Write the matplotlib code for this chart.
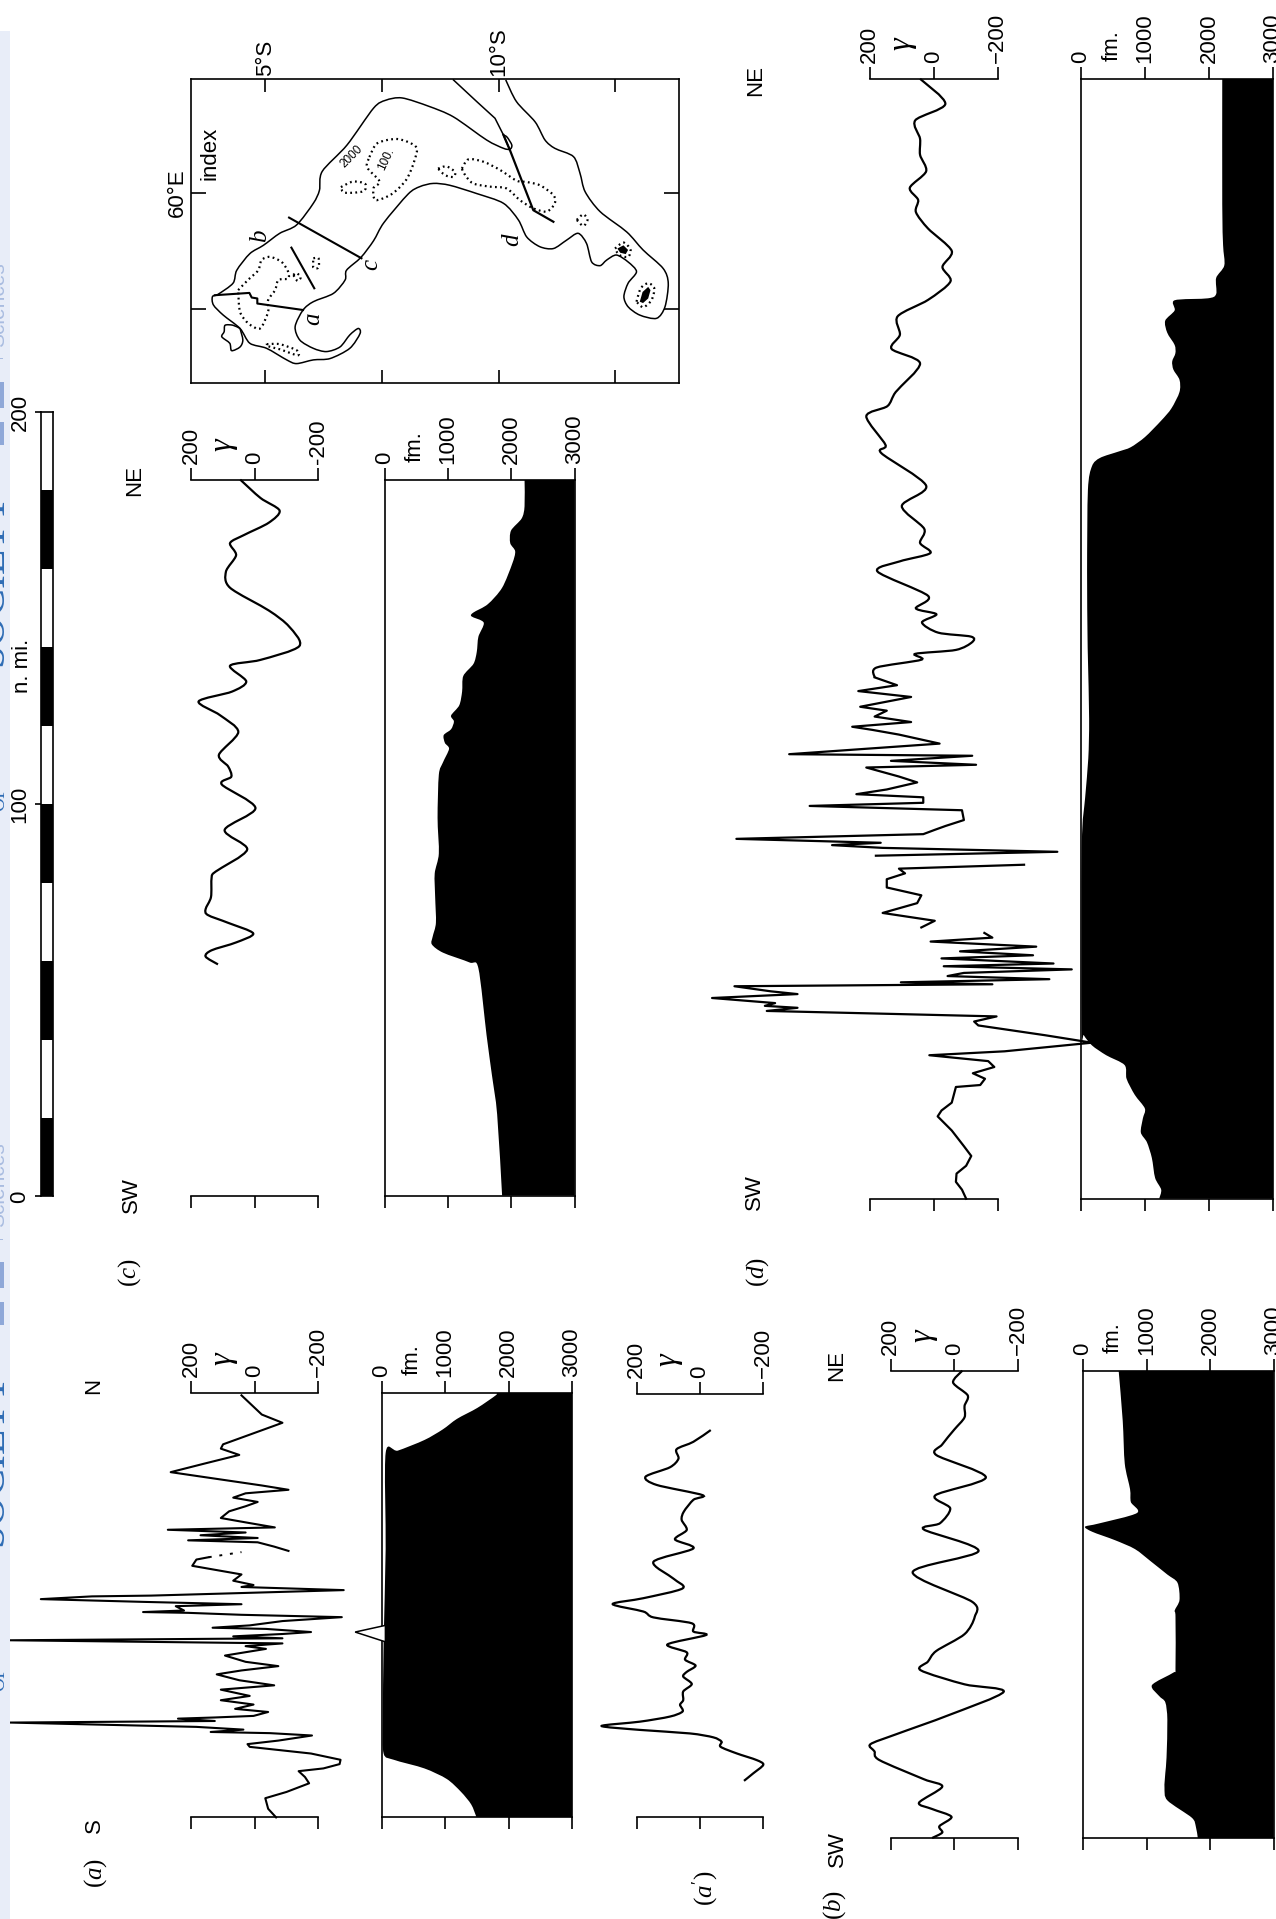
"""Magnetic and bathymetric profiles across the Carlsberg/Mascarene ridges, page turned on its side."""

import matplotlib

matplotlib.use("Agg")

import matplotlib.pyplot as plt
from matplotlib.patches import PathPatch, Rectangle
from matplotlib.path import Path

plt.rcParams["font.family"] = "Liberation Sans"
plt.rcParams["mathtext.fontset"] = "custom"
plt.rcParams["mathtext.rm"] = "Liberation Serif"
plt.rcParams["mathtext.it"] = "Liberation Serif:italic"

W, H = 1276, 1919
nan = float("nan")

# scale bar, n. mi.
bar_starts = [0, 20, 40, 60, 80, 100, 120, 140, 160, 180]
bar_colors = ["black", "white"] * 5

# (a) S-N
a_dist = [0.0, 2.2, 4.9, 6.5, 8.7, 10.3, 11.8, 12.5, 13.6, 14.7, 16.3, 18.0, 18.7, 19.6, 20.9, 21.5, 21.8, 22.4, 23.1,
          24.2, 24.6, 25.2, 25.5, 25.9, 26.9, 27.7, 28.8, 29.9, 31.0, 32.6, 33.7, 35.0, 36.5, 37.5, 38.6, 39.7, 41.3,
          43.0, 43.7, 44.4, 45.2, 45.7, 46.2, 46.8, 47.3, 48.1, 48.4, 49.0, 50.1, 51.1, 51.7, 52.2, 52.4, 52.8, 53.9,
          54.4, 55.0, 55.7, 56.4, 56.6, 57.1, 58.0, 58.8, 59.3, 60.4, 62.0, 64.2, 65.8, 66.4, nan,
          68.0, 69.1, 70.2, 70.7, 71.3, 72.0, 72.7, 73.4, 74.0, 75.1, 76.4, 78.1, 79.4, 80.5, 81.6, 82.7, 83.6, 84.7,
          88.1, 90.3, 92.5, 94.1, 95.2, 100.7, 102.8, 107.7]
a_gamma = [-68, -43, -34, -101, -172, -159, -139, -217, -268, -271, -178, 15, 22, -75, -181, -49, 138, 35, 183,
           770, 125, 241, 125, 3, -43, 61, 3, 106, 15, 106, -62, 48, 119, 41, -75, 28, 93,
           -36, 28, -88, 770, -88, 67, -88, -178, -36, 132, 15, -88, -275, 41, 209, 351, 222, 248,
           41, 351, 673, 512, 325, 106, -281, 41, 3, 67, 41, 196, 183, 144, nan,
           -107, -62, -10, 209, -10, 170, 28, 273, -64, 15, 106, 80, 28, -10, 67, 28, -107, -23,
           264, 157, 48, 106, 99, -88, -23, 41]
a_gap_dist = [66.4, 67.7]
a_gap_gamma = [144, 41]
a_depth_dist = [0, 3.3, 6.5, 9.8, 12.5, 14.7, 16.3, 25, 44.8, 68.5, 93, 93.6, 96.3, 99, 101.7, 104.5, 107.7, 108.3]
a_depth = [1496, 1412, 1252, 1027, 674, 193, 32, 20, 32, 64, 64, 257, 674, 963, 1188, 1509, 1798, 1810]
a_peak_dist = [44.8, 47.3, 49.0]
a_peak_depth = [60, -417, 60]

# (a') same track
ap_dist = [9.3, 11.2, 13.4, 14.6, 16.3, 18.0, 19.3, 20.4, 21.4, 22.3, 23.3, 24.4, 25.7, 27.0, 28.7, 29.9, 32.1, 34.0,
           35.9, 37.1, 38.7, 40.2, 42.1, 44.1, 46.5, 47.4, 49.5, 51.0, 52.5, 54.4, 55.9, 58.4, 60.9, 65.2, 68.6, 70.9,
           73.3, 75.9, 78.0, 81.0, 82.2, 84.8, 86.9, 89.3, 91.5, 93.9, 95.8, 98.8]
ap_gamma = [-139, -168, -200, -179, -116, -65, -68, -42, 32, 190, 311, 190, 95, 55, 63, 53, 53, 26,
            53, 42, 14, 47, 42, 103, -19, 21, 26, 147, 179, 276, 179, 55, 84, 147, 21, 79,
            42, 58, 51, 21, -8, 137, 172, 95, 68, 74, 21, -34]

# (b) SW-NE
b_dist = [0, 1.4, 3.0, 5.4, 7.4, 9.0, 13.1, 15.0, 19.9, 22.1, 23.9, 26.4, 31.3, 37.3, 39.2, 42.8, 45.0, 47.7, 52.0,
          56.4, 60.2, 67.8, 73.2, 78.7, 80.3, 84.1, 87.4, 92.0, 97.7, 100.4, 104.2, 107.3, 110.2, 112.9, 116.2, 119.2]
b_gamma = [70, 38, 47, 9, 70, 111, 38, 96, 236, 251, 264, 185, 19, -155, -32, 106, 83, 57, -32,
           -64, -57, 131, -76, 96, 45, 13, 60, -99, 57, 38, 0, -32, -32, -42, 4, -25]
b_depth_dist = [0, 3.0, 5.2, 9.6, 12.8, 16.6, 20.5, 30.2, 34.6, 36.2, 39.0, 42.2, 43.3, 56.4, 58.0, 60.7, 65.1, 67.2,
                70.5, 73.7, 76.0, 78.1, 79.4, 80.2, 82.9, 85.7, 89.0, 95.5, 106.4, 119.2]
b_depth = [1806, 1774, 1710, 1327, 1282, 1295, 1314, 1327, 1295, 1199, 1085, 1423, 1455, 1455, 1442, 1518, 1487, 1327,
           1072, 817, 498, 147, 32, 242, 849, 753, 740, 657, 625, 561]

# (c) SW-NE
c_dist = [59.0, 61.0, 62.6, 64.6, 66.9, 69.6, 71.6, 73.1, 76.2, 81.2, 82.7, 88.3, 93.3, 98.9, 104.9, 106.9, 109.5,
          112.5, 118.3, 122.6, 126.1, 128.6, 131.2, 135.2, 136.7, 140.2, 145.2, 149.3, 155.1, 159.2, 163.4, 166.5,
          168.6, 171.7, 174.8, 178.0, 182.7]
c_gamma = [115, 154, 135, 58, 4, 83, 147, 154, 137, 135, 122, 23, 94, -3, 103, 73, 83,
           112, 51, 109, 176, 71, 26, 77, -19, -141, -109, -45, 77, 90, 58, 77,
           32, -45, -79, -19, 45]
c_depth_dist = [0, 20.7, 30.8, 40.9, 58, 59.5, 62, 64.1, 66.1, 69.6, 76.2, 82.2, 87.3, 96.4, 107.4, 110.5, 114, 115.5,
                117.5, 119, 121, 122.5, 125.1, 128.6, 132.6, 135.7, 138.7, 142.6, 146.2, 147.8, 148.8, 150.9, 155.1,
                161.3, 164.4, 166.5, 169.7, 172.8, 175.9, 182.7]
c_depth = [1855, 1777, 1694, 1610, 1481, 1340, 921, 747, 760, 811, 799, 792, 857, 837, 857, 921, 1018, 953,
           934, 1050, 1095, 1050, 1179, 1224, 1243, 1404, 1455, 1481, 1565, 1372, 1404, 1629, 1855,
           2016, 2061, 1983, 1996, 2164, 2209, 2209]

# (d) SW-NE, breaks where the record stops
d_dist = [0, 2.3, 4.3, 6.4, 8.4, 10.9, 13.4, 17.4, 21, 22.5, 24.5, 28.5, 29, 30.6, 32, 33.6, 35.1, 36.6, 37.6, 39.8,
          41.7, 44.2, 45.2, 46.5, 47.2, 47.9, 48.7, 49.2, 49.9, 51.2, 52.2, 52.9, 54.2, 54.7, 55.2, 56, 56.8, 57.6,
          58.5, 59.3, 60, 61.3, 62.1, 63.1, 64.3, 65.6, 66.6, 67.8, nan,
          69.2, 70.9, 72.9, 75.4, 77.4, 79.4, 81.5, 83, 84.2, 85.2, nan,
          87.5, 88.5, 89.5, 90.2, 90.8, 91.8, 93, 94.1, 95.1, 96.6, 99.1, 100.2, 101, 102.4, 103.2, 104.4, 106.2,
          107.7, 110, 110.7, 111.7, 113, 113.4, 116.1, 118.4, 119.6, 120.4, 121.6, 123, 124.5, 125.5, 128, 129.5,
          131, 133, 135.5, 137.5, 139, 140, 142, 143.4, 144.4, 147, 149.1, 150.6, 153.8, 160, 162.6, 164.7, 167.3,
          170.9, 176.7, 181.9, 190.2, 192.3, 199.6, 202.2, 205.8, 213.1, 216.8, 220.4, 225.1, 229.3, 234, 237.7,
          241.8, 247.5, 251.7, 254.8, 257.9, 262.1, 266.3, 270.4, 275.1, 279.3, 285.7]
d_gamma = [-102, -89, -70, -72, -102, -118, -95, -57, -13, -25, -57, -70, -146, -161, -123, -190, -171, 13, -222, -495,
           -349, -140, -127, -197, 159, 521, 425, 527, 495, 692, 425, 508, 622, -184, 102, -362, -44, -95,
           -432, -32, -375, -25, -311, -83, -321, 9, -184, -159, nan,
           38, -4, 159, 51, 38, 146, 146, 89, 108, -283, nan,
           180, -387, 159, 317, 165, 616, 32, -4, -38, -95, -89, 387, 32, 32, 241, 146, 51,
           108, 210, -133, 133, -121, 451, -19, 108, 191, 254, 70, 184, 146, 229, 70, 235,
           114, 184, 178, 38, 57, -70, -121, -117, -15, 36, -9, 55, 17, 175, 105, 10, 42,
           29, 99, 23, 163, 150, 210, 144, 118, 42, 131, 105, 112, 17, -53, -28,
           -57, 17, 55, 48, 74, 23, 42, 42, 57, -37, 42]
d_depth_dist = [0, 2.3, 5.3, 10.4, 14.4, 16.9, 20.5, 23, 26.5, 30.6, 34.1, 36.6, 39.1, 41.7, 43.7, 90.1, 102.2, 112.3,
                122.4, 137.9, 143.4, 160, 180.8, 186.9, 189, 190.6, 191.7, 194.3, 198.5, 201.6, 205.8, 208.9, 211.5,
                213.6, 215.7, 217.8, 220.9, 224, 226.6, 229.2, 229.7, 230.8, 234.9, 238.1, 243.3, 253.7, 285.7]
d_depth = [1221, 1253, 1158, 1107, 1030, 935, 967, 998, 840, 712, 681, 394, 172, 45, 13, 13, 64, 114,
           127, 108, 102, 95, 108, 172, 299, 585, 776, 999, 1253, 1412, 1539, 1539, 1444,
           1425, 1475, 1463, 1348, 1316, 1463, 1463, 1984, 2112, 2112, 2239, 2220, 2207, 2207]

# index map: lat deg S, lon deg E
coast_lat = [10.15, 10.38, 10.78, 10.99, 11.20, 11.60, 11.74, 11.85, 12.17, 12.74, 13.09, 13.52, 13.63, 13.56, 13.38,
             13.02, 12.77, 12.68, 12.77, 12.95, 12.77, 12.52, 12.31, 12.17, 11.99, 11.88, 11.70, 11.45, 11.17, 10.88,
             10.60, 10.42, 10.10, 9.53, 8.95, 8.60, 8.31, 8.06, 7.54, 7.32, 7.05, 6.74, 6.71, 6.46, 6.03, 5.81, 5.64,
             5.74, 6.03, 6.31, 6.60, 6.81, 6.99, 7.03, 6.81, 6.39, 6.03, 5.67, 5.46, 5.03, 4.67, 4.46, 4.10, 3.89,
             3.87, 3.99, 4.31, 4.39, 4.67, 4.96, 5.31, 5.67, 6.03, 6.16, 6.22, 6.75, 7.32, 7.58, 7.93, 8.50, 9.03,
             9.74, 10.10, 10.24, 10.28, 10.18, 10.10]
coast_lon = [62.45, 61.98, 61.54, 61.15, 60.97, 60.79, 60.43, 60.03, 59.60, 59.16, 58.77, 58.37, 58.05, 57.54, 57.29,
             57.36, 57.54, 57.76, 58.05, 58.30, 58.51, 58.66, 58.55, 58.43, 58.51, 58.91, 59.13, 58.98, 58.80, 58.84,
             59.05, 59.42, 59.78, 59.99, 60.17, 60.21, 60.14, 59.98, 59.36, 58.97, 58.61, 58.33, 58.12, 57.83, 57.65,
             57.47, 57.11, 56.82, 56.64, 56.57, 56.67, 56.93, 57.07, 56.96, 56.64, 56.42, 56.39, 56.31, 56.39, 56.64,
             56.75, 57.07, 57.36, 57.58, 57.76, 57.81, 58.05, 58.33, 58.69, 58.87, 59.13, 59.31, 59.78, 60.06, 60.47,
             61.04, 61.84, 62.01, 62.06, 61.88, 61.65, 61.15, 60.97, 60.95, 61.04, 61.21, 61.26]
island_lat = [4.46, 4.31, 4.14, 4.12, 4.07, 4.24, 4.28, 4.46, 4.52, 4.46]
island_lon = [57.07, 57.14, 57.14, 57.0, 56.89, 56.75, 56.59, 56.67, 56.82, 57.07]

track_a_lat = [3.92, 4.66, 4.71, 4.83, 4.83, 5.81]
track_a_lon = [57.79, 57.84, 57.74, 57.72, 57.61, 57.47]
track_b_lat = [5.56, 6.05]
track_b_lon = [58.82, 57.94]
track_c_lat = [5.51, 7.06]
track_c_lon = [59.47, 58.59]
track_d1_lat = [9.03, 9.53, 9.92, 10.10, 10.24]
track_d1_lon = [62.45, 61.98, 61.62, 61.26, 60.93]
track_d2_lat = [10.10, 10.24, 10.74, 11.17]
track_d2_lon = [61.26, 60.93, 59.63, 59.38]

shoals = [
    ([4.42, 4.64, 4.85, 4.92, 5.10, 5.35, 5.49, 5.49, 5.28, 5.21, 5.06, 5.06, 4.89, 4.64, 4.46, 4.42],
     [57.90, 58.13, 58.33, 58.55, 58.62, 58.51, 58.30, 58.15, 58.12, 57.90, 57.68, 57.43, 57.07, 57.18, 57.43, 57.90]),
    ([5.60, 5.67, 5.76, 5.69, 5.60], [58.23, 58.27, 58.18, 58.10, 58.23]),
    ([6.03, 6.14, 6.14, 6.03, 6.03], [58.59, 58.59, 58.39, 58.39, 58.59]),
    ([5.03, 5.31, 5.67, 5.69, 5.31, 5.04, 5.03], [56.73, 56.73, 56.60, 56.49, 56.62, 56.69, 56.73]),
    ([7.23, 7.40, 7.84, 8.23, 8.19, 8.02, 7.71, 7.36, 7.32, 7.45, 7.18, 7.23],
     [60.78, 61.08, 61.17, 61.00, 60.69, 60.29, 59.98, 59.85, 60.11, 60.25, 60.56, 60.78]),
    ([6.62, 6.88, 7.14, 7.10, 6.70, 6.62], [60.13, 60.25, 60.20, 60.04, 60.01, 60.13]),
    ([8.70, 8.88, 9.06, 9.03, 8.85, 8.70], [60.53, 60.58, 60.46, 60.35, 60.39, 60.53]),
    ([9.21, 9.35, 9.67, 10.03, 10.38, 10.60, 10.88, 11.17, 11.20, 11.03, 10.74, 10.45, 10.17, 9.81, 9.45, 9.28, 9.21],
     [60.53, 60.73, 60.68, 60.50, 60.27, 60.24, 60.17, 59.96, 59.78, 59.60, 59.67, 59.85, 60.10, 60.14, 60.21, 60.39,
      60.53]),
    ([11.67, 11.81, 11.90, 11.81, 11.67], [59.42, 59.54, 59.42, 59.29, 59.42]),
    ([12.95, 13.04, 13.20, 13.33, 13.27, 13.09, 12.95], [57.65, 57.94, 58.05, 57.94, 57.68, 57.53, 57.65]),
    ([12.49, 12.67, 12.82, 12.77, 12.58, 12.49], [58.80, 58.93, 58.78, 58.62, 58.66, 58.80]),
]
reunion_lat = [13.02, 13.08, 13.20, 13.25, 13.20, 13.09]
reunion_lon = [57.65, 57.86, 57.97, 57.90, 57.72, 57.62]
mauritius_lat = [12.54, 12.67, 12.77, 12.72, 12.60]
mauritius_lon = [58.80, 58.87, 58.77, 58.68, 58.71]

gamma_ticks = [200, 0, -200]
depth_ticks = [0, 1000, 2000, 3000]
depth_labels = ["0", "1000", "2000", "3000"]

FS = 16
LW = 1.2

fig = plt.figure(figsize=(W / 100, H / 100), dpi=100, facecolor="white")


def box(x0, y0, x1, y1):
    # pixel box of the page -> axes
    ax = fig.add_axes([x0 / W, 1 - y1 / H, (x1 - x0) / W, (y1 - y0) / H])
    ax.patch.set_alpha(0)
    for s in ax.spines.values():
        s.set_linewidth(LW)
    return ax


def page_text(x, y, s, **kw):
    kw.setdefault("fontsize", FS)
    kw.setdefault("rotation", 90)
    fig.text(x / W, 1 - y / H, s, ha="center", va="center", **kw)


def curve(xs, ys):
    # bezier through the read points, the pen line was drawn smooth
    verts = [(xs[0], ys[0])]
    codes = [Path.MOVETO]
    n = len(xs)
    for i in range(n - 1):
        a, b = max(i - 1, 0), min(i + 2, n - 1)
        verts.append((xs[i] + (xs[i + 1] - xs[a]) / 7, ys[i] + (ys[i + 1] - ys[a]) / 7))
        verts.append((xs[i + 1] - (xs[b] - xs[i]) / 7, ys[i + 1] - (ys[b] - ys[i]) / 7))
        verts.append((xs[i + 1], ys[i + 1]))
        codes += [Path.CURVE4] * 3
    return verts, codes


def smooth(ax, xs, ys, lw=1.6, **kw):
    verts, codes = curve(xs, ys)
    ax.add_patch(PathPatch(Path(verts, codes), fill=False, lw=lw, edgecolor="black", clip_on=False, **kw))


def gamma_panel(x0, y0, x1, y1, length, minus="\u2212"):
    ax = box(x0, y0, x1, y1)
    ax.set_xlim(200, -200)
    ax.set_ylim(0, length)
    ax.spines["left"].set_visible(False)
    ax.spines["right"].set_visible(False)
    ax.set_yticks([])
    ax.set_xticks(gamma_ticks)
    ax.set_xticklabels(["200", "0", minus + "200"], rotation=90, fontsize=FS)
    ax.tick_params(axis="x", top=True, bottom=True, labeltop=True, labelbottom=False,
                   direction="out", length=8.7, width=LW, pad=2.5)
    ax.annotate("\u03b3", (100, 1), xycoords=("data", "axes fraction"), xytext=(0, 25),
                textcoords="offset points", rotation=90, ha="center", va="center",
                fontsize=23, family="Liberation Serif", style="italic")
    return ax


def depth_panel(x0, y0, x1, y1, dist, depth):
    ax = box(x0, y0, x1, y1)
    ax.set_xlim(0, 3000)
    ax.set_ylim(0, dist[-1])
    ax.set_yticks([])
    ax.set_xticks(depth_ticks)
    ax.set_xticklabels(depth_labels, rotation=90, fontsize=FS)
    ax.tick_params(axis="x", top=True, bottom=True, labeltop=True, labelbottom=False,
                   direction="out", length=8.7, width=LW, pad=2.5)
    verts, codes = curve(depth, dist)
    verts += [(3000, dist[-1]), (3000, dist[0]), (depth[0], dist[0])]
    codes += [Path.LINETO, Path.LINETO, Path.CLOSEPOLY]
    ax.add_patch(PathPatch(Path(verts, codes), facecolor="black", lw=0))
    ax.annotate("fm.", (480, 1), xycoords=("data", "axes fraction"), xytext=(0, 13),
                textcoords="offset points", rotation=90, ha="center", va="bottom", fontsize=FS)
    return ax


def trace(ax, dist, gamma, lw=1.5):
    ax.plot(gamma, dist, color="black", lw=lw, clip_on=False, solid_joinstyle="round")


# panel (a)
ax = gamma_panel(191, 1393, 318, 1817.4, 108.3)
trace(ax, a_dist, a_gamma)
ax.plot(a_gap_gamma, a_gap_dist, color="black", lw=1.4, ls=(0, (1.5, 4)), clip_on=False)
ax = depth_panel(381.6, 1393, 572, 1817.4, a_depth_dist, a_depth)
ax.fill(a_peak_depth, a_peak_dist, facecolor="white", edgecolor="black", lw=1.1, clip_on=False, zorder=3)

# panel (a')
ax = gamma_panel(636.7, 1394, 763.3, 1817.3, 108)
smooth(ax, ap_gamma, ap_dist)

# panel (b)
ax = gamma_panel(890.7, 1370.7, 1018, 1838, 119.2)
smooth(ax, b_gamma, b_dist)
depth_panel(1083, 1370.7, 1273.7, 1838, b_depth_dist, b_depth)

# panel (c)
ax = gamma_panel(191, 479.6, 318, 1195.6, 182.7, minus="-")
smooth(ax, c_gamma, c_dist)
depth_panel(384.5, 479.6, 574.7, 1195.6, c_depth_dist, c_depth)

# panel (d): spiky middle stays straight, the quiet north end is smooth
ax = gamma_panel(869.5, 78.8, 997.5, 1198.7, 285.7)
cut = d_dist.index(133)
trace(ax, d_dist[:cut + 1], d_gamma[:cut + 1], lw=1.6)
smooth(ax, d_gamma[cut:], d_dist[cut:])
depth_panel(1081, 78.8, 1273, 1198.7, d_depth_dist, d_depth)

# scale bar
ax = box(41, 412, 53, 1196.5)
ax.set_xlim(0, 1)
ax.set_ylim(0, 200)
ax.barh(bar_starts, [1] * 10, height=20, left=0, align="edge", color=bar_colors, lw=0)
ax.set_xticks([])
ax.yaxis.tick_left()
ax.set_yticks([0, 100, 200])
ax.set_yticklabels(["0", "100", "200"], rotation=90, va="center", fontsize=FS)
ax.tick_params(axis="y", direction="out", length=4.5, width=LW, pad=3)
page_text(23, 666, "n. mi.")

# index map
ax = box(191, 79, 679, 383)
ax.set_xlim(3.41, 13.86)
ax.set_ylim(55.89, 62.47)
smooth(ax, coast_lat, coast_lon, lw=1.1)
smooth(ax, island_lat, island_lon, lw=1.1)
ax.plot(track_a_lat, track_a_lon, color="black", lw=1.5)
ax.plot(track_b_lat, track_b_lon, color="black", lw=1.5)
ax.plot(track_c_lat, track_c_lon, color="black", lw=1.5)
ax.plot(track_d1_lat, track_d1_lon, color="black", lw=1.1)
ax.plot(track_d2_lat, track_d2_lon, color="black", lw=1.6)
for lat, lon in shoals:
    verts, codes = curve(lat, lon)
    ax.add_patch(PathPatch(Path(verts, codes), fill=False, lw=1.6, edgecolor="black", ls=(0, (0.8, 1.5))))
ax.fill(reunion_lat, reunion_lon, color="black", lw=0)
ax.fill(mauritius_lat, mauritius_lon, color="black", lw=0)
ax.set_xticks([5, 7.5, 10, 12.5])
ax.set_xticklabels(["5\u00b0S", "", "10\u00b0S", ""], rotation=90, fontsize=FS)
ax.set_yticks([57.5, 60])
ax.set_yticklabels(["", "60\u00b0E"], rotation=90, va="center", fontsize=FS)
ax.tick_params(axis="x", top=True, bottom=True, labeltop=True, labelbottom=False,
               direction="in", length=9.5, width=LW, pad=2)
ax.tick_params(axis="y", left=True, right=True, direction="in", length=10.5, width=LW, pad=2)
ax.text(3.82, 60.87, "index", rotation=90, ha="center", va="center", fontsize=FS)
ax.text(6.86, 60.8, "2000", rotation=45, ha="center", va="center", fontsize=8.5)
ax.text(7.58, 60.74, "100.", rotation=65, ha="center", va="center", fontsize=8.5)
for lat, lon, name in [(6.02, 57.27, "a"), (4.89, 59.07, "b"), (7.26, 58.46, "c"), (10.28, 59.0, "d")]:
    ax.text(lat, lon, name, rotation=90, ha="center", va="center", fontsize=18,
            family="Liberation Serif", style="italic")

# panel captions and compass ends
for x, y, s in [(96, 1873, r"$(\mathit{a})$"), (705, 1888, r"$(\mathit{a'})$"), (835, 1905, r"$(\mathit{b})$"),
                (130, 1273, r"$(\mathit{c})$"), (758, 1272, r"$(\mathit{d})$")]:
    page_text(x, y, s, fontsize=18)
for x, y, s in [(94, 1826, "S"), (94, 1386, "N"), (837, 1849, "SW"), (837, 1365, "NE"), (131, 1195, "SW"),
                (134.5, 481, "NE"), (754, 1192, "SW"), (755.5, 80, "NE")]:
    page_text(x, y, s)

# edge of the web page the scan sits in
fig.add_artist(Rectangle((0, 0), 10 / W, (H - 31) / H, transform=fig.transFigure, color="#E8EDF8", lw=0, zorder=5))
for shift in [0, 880]:
    for y0, y1 in [(382, 408), (422, 445)]:
        fig.add_artist(Rectangle((0, 1 - (y1 + shift) / H), 4 / W, (y1 - y0) / H, transform=fig.transFigure,
                                 color="#8FA8D8", lw=0, zorder=6))
    fig.add_artist(Rectangle((0, 1 - (359.5 + shift) / H), 3 / W, 1 / H, transform=fig.transFigure,
                             color="#A9BCE0", lw=0, zorder=6))
    fig.text(11 / W, 1 - (578 + shift) / H, "SOCIETY", rotation=90, ha="right", va="center", fontsize=30,
             family="Liberation Serif", color="#2F6DB5", zorder=7)
    fig.text(8 / W, 1 - (799 + shift) / H, "OF", rotation=90, ha="right", va="center", fontsize=14,
             family="Liberation Serif", color="#2F6DB5", zorder=7)
    fig.text(8.5 / W, 1 - (305 + shift) / H, "Sciences", rotation=90, ha="right", va="center", fontsize=15,
             color="#A9BCE0", zorder=7)

fig.savefig("out.png", dpi=100, facecolor="white")
